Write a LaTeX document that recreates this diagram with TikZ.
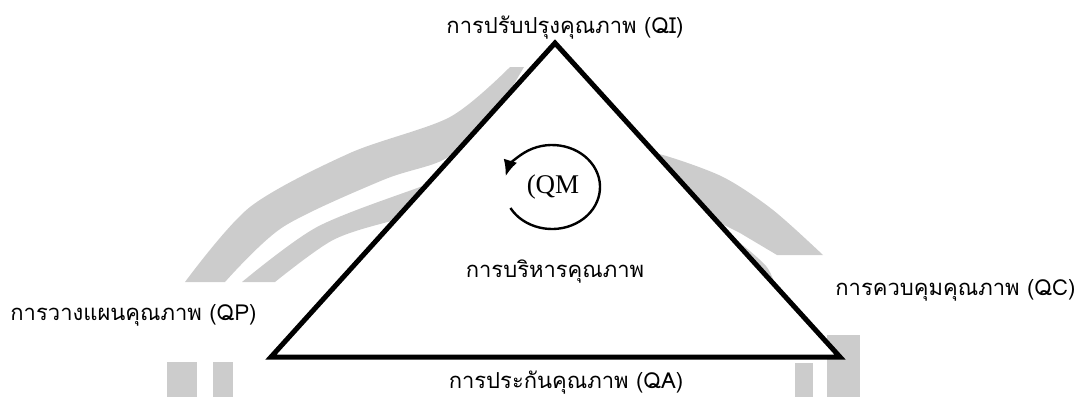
\documentclass[tikz,border=0pt]{standalone}
\usepackage{fontspec}
\usetikzlibrary{arrows.meta}
\newfontfamily\thaifont[Script=Thai]{Loma}
\newfontfamily\qmfont{Liberation Serif}
\definecolor{markgray}{HTML}{CCCCCC}

\begin{document}
\begin{tikzpicture}[
    x=0.5pt, y=-0.5pt,
    stage/.style={font=\thaifont\fontsize{11}{13}\selectfont, inner sep=0pt},
    tag/.style={font=\qmfont\fontsize{13.5}{15}\selectfont, inner sep=0pt},
    wmark/.style={fill=markgray, draw=none},
    side/.style={line width=2.5pt, fill=white},
    cycle arrow/.style={line width=1.2pt, -{Latex[length=8pt, width=7pt]}}]

    \useasboundingbox (0,0) rectangle (1081,397);

    % ================= the gray mark behind =================
    \fill[wmark] plot[smooth] coordinates {(185,282) (250,207) (350,153) (450,117) (510,67)}
        -- (524,67) -- plot[smooth] coordinates {(490,125) (443,160) (383,180) (283,227) (225,282)} -- cycle;
    \fill[wmark] plot[smooth] coordinates {(242,282) (317,227) (420,187) (470,170)}
        -- plot[smooth] coordinates {(460,205) (395,220) (333,240) (275,282)} -- cycle;
    \fill[wmark] plot[smooth] coordinates {(630,150) (663,155) (723,177) (773,210) (823,255)}
        -- (777,255) -- plot[smooth] coordinates {(740,233) (707,217) (670,205)} -- cycle;
    \fill[wmark] plot[smooth] coordinates {(700,215) (740,243) (766,266) (774,282)}
        -- (740,282) -- (700,250) -- cycle;
    \fill[wmark] (167,362) rectangle (197,397);
    \fill[wmark] (213,362) rectangle (233,397);
    \fill[wmark] (795,363) rectangle (813,397);
    \fill[wmark] (827,335) rectangle (860,397);

    % ================= the triangle =================
    \coordinate (apex) at (555,43);
    \coordinate (bl) at (271,357);
    \coordinate (br) at (840,357);
    \draw[side] (apex) -- (br) -- (bl) -- cycle;

    % one label per corner, one under the base -
    \node[stage, anchor=base] (qi) at (565,33) {การปรับปรุงคุณภาพ (QI)};
    \node[stage, anchor=base west] (qp) at (10,320) {การวางแผนคุณภาพ (QP)};
    \node[stage, anchor=base west] (qc) at (835,295) {การควบคุมคุณภาพ (QC)};
    \node[stage, anchor=base] (qa) at (566,388) {การประกันคุณภาพ (QA)};

    % ================= the loop in the middle =================
    \node[stage, anchor=base] (qm) at (555,277) {การบริหารคุณภาพ};
    \node[tag, anchor=base] (qmtag) at (553,193) {(QM};
    \coordinate (loop) at (552,187);
    \draw[cycle arrow] ([shift={(150:48 and 42)}]loop)
        arc[start angle=150, end angle=-165, x radius=48, y radius=42];
\end{tikzpicture}
\end{document}
